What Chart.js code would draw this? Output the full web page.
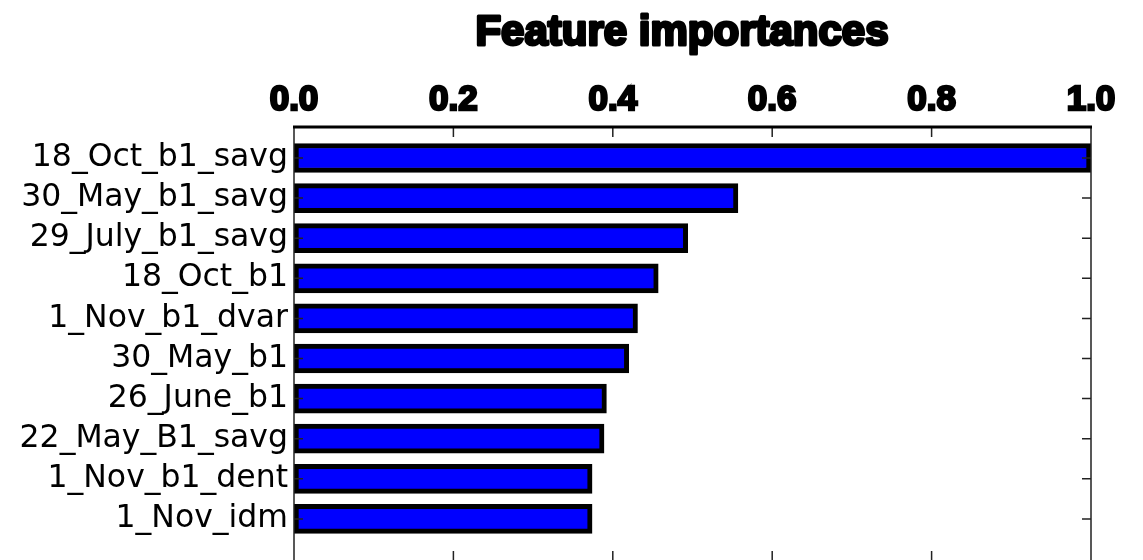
<!DOCTYPE html>
<html>
<head>
<meta charset="utf-8">
<script src="https://cdn.jsdelivr.net/npm/chart.js@4.4.0/dist/chart.umd.min.js"></script>
<style>
  html, body { margin: 0; padding: 0; overflow: hidden; background: #fff; }
  #wrap { position: relative; width: 1143px; height: 562px; }
</style>
</head>
<body>
<div id="wrap"><canvas id="chartCanvas"></canvas></div>
<script>
// features, most important first
var nombres = ["18_Oct_b1_savg", "30_May_b1_savg", "29_July_b1_savg", "18_Oct_b1",
  "1_Nov_b1_dvar", "30_May_b1", "26_June_b1", "22_May_B1_savg", "1_Nov_b1_dent", "1_Nov_idm"];
var importancias = [1.0, 0.557, 0.494, 0.457, 0.431, 0.42, 0.392, 0.389, 0.374, 0.374];
var ticksX = [0.0, 0.2, 0.4, 0.6, 0.8, 1.0];
var titulo = "Feature importances";

var puntos = importancias.map(function (v, i) { return { x: v, y: i }; });

// titulo, marco y marcas hacia adentro
var marcoPlugin = {
  id: "marco",
  afterDraw: function (chart) {
    var ctx = chart.ctx;
    var a = chart.chartArea;
    var sx = chart.scales.x, sy = chart.scales.y;
    ctx.save();
    ctx.strokeStyle = "#222";
    ctx.lineWidth = 1.5;
    ctx.beginPath();
    ctx.moveTo(a.left, a.top); ctx.lineTo(a.left, a.bottom);
    ctx.moveTo(a.right, a.top); ctx.lineTo(a.right, a.bottom);
    ctx.moveTo(a.left, a.bottom); ctx.lineTo(a.right, a.bottom);
    nombres.forEach(function (_, i) {
      var py = sy.getPixelForValue(i);
      ctx.moveTo(a.left, py); ctx.lineTo(a.left + 9, py);
      ctx.moveTo(a.right, py); ctx.lineTo(a.right - 9, py);
    });
    ticksX.forEach(function (t) {
      var px = sx.getPixelForValue(t);
      ctx.moveTo(px, a.top); ctx.lineTo(px, a.top + 10);
      ctx.moveTo(px, a.bottom); ctx.lineTo(px, a.bottom - 10);
    });
    ctx.stroke();
    ctx.strokeStyle = "#000";
    ctx.lineWidth = 3;
    ctx.beginPath();
    ctx.moveTo(a.left - 1, a.top); ctx.lineTo(a.right + 1, a.top);
    ctx.stroke();

    ctx.font = "bold 42px 'Liberation Sans', Arial, sans-serif";
    ctx.textAlign = "center";
    ctx.textBaseline = "alphabetic";
    ctx.lineJoin = "round";
    ctx.lineWidth = 3;
    ctx.strokeStyle = "#000";
    ctx.fillStyle = "#000";
    ctx.strokeText(titulo, 682, 45);
    ctx.fillText(titulo, 682, 45);
    ctx.restore();
  }
};

var chartConfig = {
  type: "bar",
  data: {
    datasets: [{
      data: puntos,
      backgroundColor: "#0000ff",
      borderColor: "#000000",
      borderWidth: 5,
      borderSkipped: false,
      barThickness: 29
    }]
  },
  options: {
    indexAxis: "y",
    responsive: true,
    maintainAspectRatio: false,
    animation: false,
    layout: { padding: { top: 0, left: 0, right: 52, bottom: 1 } },
    plugins: { legend: { display: false }, tooltip: { enabled: false }, title: { display: false } },
    scales: {
      x: {
        type: "linear",
        position: "top",
        min: 0,
        max: 1,
        grid: { display: false, drawTicks: false },
        border: { display: false },
        afterFit: function (s) { s.height = 127; },
        afterBuildTicks: function (s) { s.ticks = ticksX.map(function (v) { return { value: v }; }); },
        ticks: {
          padding: 6,
          color: "#000",
          font: { family: "'Liberation Sans', Arial, sans-serif", size: 35, weight: "bold" },
          textStrokeColor: "#000",
          textStrokeWidth: 2.5,
          callback: function (v) { return Number(v).toFixed(1); }
        }
      },
      y: {
        type: "linear",
        reverse: true,
        offset: false,
        min: -0.773,
        max: 10.05,
        grid: { display: false, drawTicks: false },
        border: { display: false },
        afterFit: function (s) {
          s.width = 294;
          s.paddingTop = 0;
          s.paddingBottom = 0;
        },
        afterBuildTicks: function (s) { s.ticks = nombres.map(function (_, i) { return { value: i }; }); },
        ticks: {
          padding: 6,
          color: "#000",
          font: { family: "'DejaVu Sans', sans-serif", size: 31.5 },
          callback: function (v) { return nombres[v] !== undefined ? nombres[v] : ""; }
        }
      }
    }
  },
  plugins: [marcoPlugin]
};

var myChart = new Chart(document.getElementById("chartCanvas").getContext("2d"), chartConfig);
</script>
</body>
</html>
